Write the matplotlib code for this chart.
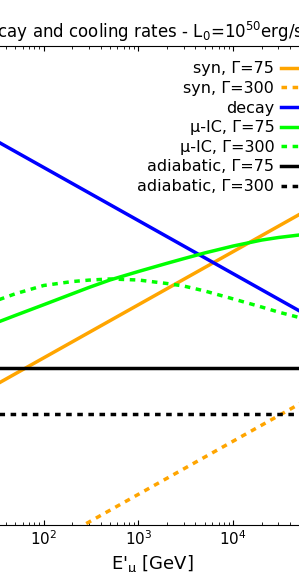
import numpy as np
import matplotlib
matplotlib.use("Agg")
import matplotlib.pyplot as plt

# Muon energy grid (GeV) and rates
E_lines = [10, 100, 1e3, 1e4, 1e5]
decay = [5.2e3, 5.2e2, 52, 5.2, 0.52]
syn_75 = [0.0136, 0.136, 1.36, 13.6, 136]
syn_300 = [3.7e-6, 3.7e-5, 3.7e-4, 3.7e-3, 3.7e-2]
adiab_75 = [0.088, 0.088, 0.088, 0.088, 0.088]
adiab_300 = [0.012, 0.012, 0.012, 0.012, 0.012]

E_ic = [30, 50, 100, 200, 300, 500, 1e3, 2e3, 3e3, 5e3, 1e4, 2e4, 3e4, 5e4, 1e5]
muic_75 = [0.601, 0.853, 1.36, 2.18, 2.87, 3.97, 5.74, 8.18, 10.0, 12.8, 17.3, 22.4, 25.0, 27.9, 31.8]
muic_300 = [1.57, 2.18, 3.13, 3.71, 3.95, 4.15, 3.97, 3.41, 3.06, 2.47, 1.75, 1.23, 0.99, 0.78, 0.54]

fig = plt.figure(figsize=(2.99, 5.72), dpi=100)
ax = fig.add_axes([-22.6 / 299, 47.5 / 572, 350.6 / 299, 478.5 / 572])

lw = 2.5
dsh = (1.6, 1.6)
ax.plot(E_lines, syn_75, color='orange', lw=lw, label='syn, Γ=75')
ax.plot(E_lines, syn_300, color='orange', lw=lw, dashes=dsh, label='syn, Γ=300')
ax.plot(E_lines, decay, color='blue', lw=lw, label='decay')
ax.plot(E_ic, muic_75, color='lime', lw=lw, label='μ-IC, Γ=75')
ax.plot(E_ic, muic_300, color='lime', lw=lw, dashes=dsh, label='μ-IC, Γ=300')
ax.plot(E_lines, adiab_75, color='black', lw=lw, label='adiabatic, Γ=75')
ax.plot(E_lines, adiab_300, color='black', lw=lw, dashes=dsh, label='adiabatic, Γ=300')

ax.set_xscale('log')
ax.set_yscale('log')
ax.set_xlim(20, 1e5)
ax.set_ylim(1e-4, 1e5)
ax.tick_params(which='both', direction='in', top=True, right=True)
ax.tick_params(axis='x', labelsize=11)
ax.set_xlabel(r"E$'_\mathrm{\mu}$ [GeV]", fontsize=13)
ax.set_ylabel(r"rate [s$^{-1}$]", fontsize=13)
ax.set_title(r"Muon decay and cooling rates - L$_0$=10$^{50}$erg/s, z=1",
             fontsize=12, x=0.454)
ax.legend(loc='upper right', markerfirst=False, frameon=False,
          fontsize=11.5, labelspacing=0.29, handletextpad=0.4,
          borderaxespad=0.56)

fig.savefig('out.png', dpi=100)
